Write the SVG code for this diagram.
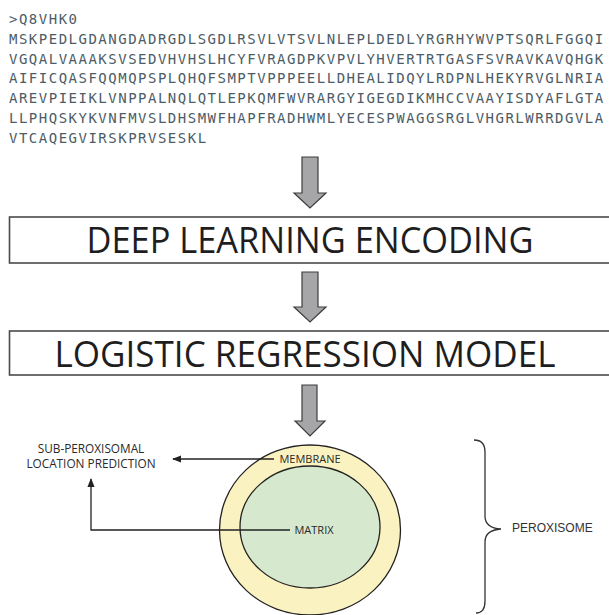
<svg xmlns="http://www.w3.org/2000/svg" width="609" height="615" viewBox="0 0 609 615">
  <style>
    .seq { font-family: "DejaVu Sans Mono", "Liberation Mono", monospace; font-size: 14px; letter-spacing: 1.5px; fill: #4d5c66; }
    .stage { fill: #ffffff; stroke: #4a4a4a; stroke-width: 1.6; }
    .stage-text { font-family: "Open Sans", "Noto Sans", sans-serif; font-size: 36px; fill: #1e1e1e; text-anchor: middle; }
    .flow { fill: #a6a6a8; stroke: #3c3c3c; stroke-width: 1.2; stroke-linejoin: miter; }
    .small { font-family: "Open Sans", "Noto Sans", sans-serif; font-size: 11px; fill: #2a2a2a; }
    .label { font-family: "Open Sans", "Noto Sans", sans-serif; font-size: 11.8px; fill: #2a2a2a; text-anchor: middle; }
    .link { fill: none; stroke: #222; stroke-width: 1.3; }
    .shell { fill: #fbf2c1; stroke: #222; stroke-width: 1.3; }
    .core { fill: #d6e8cd; stroke: #222; stroke-width: 1.3; }
    .brace { fill: none; stroke: #333; stroke-width: 1.3; }
    .side { font-family: "Liberation Sans", Arial, sans-serif; font-size: 12px; fill: #333; }
  </style>
  <defs>
    <marker id="tip" viewBox="0 0 10 10" refX="9" refY="5" markerWidth="9" markerHeight="9" markerUnits="userSpaceOnUse" orient="auto">
      <path d="M0,1 L10,5 L0,9 Z" fill="#222"/>
    </marker>
  </defs>

  <rect width="609" height="615" fill="#ffffff"/>

  <!-- protein sequence in FASTA form -->
  <g id="sequence">
    <text class="seq" x="9" y="24">&gt;Q8VHK0</text>
    <text class="seq" x="9" y="43.8">MSKPEDLGDANGDADRGDLSGDLRSVLVTSVLNLEPLDEDLYRGRHYWVPTSQRLFGGQI</text>
    <text class="seq" x="9" y="63.6">VGQALVAAAKSVSEDVHVHSLHCYFVRAGDPKVPVLYHVERTRTGASFSVRAVKAVQHGK</text>
    <text class="seq" x="9" y="83.4">AIFICQASFQQMQPSPLQHQFSMPTVPPPEELLDHEALIDQYLRDPNLHEKYRVGLNRIA</text>
    <text class="seq" x="9" y="103.2">AREVPIEIKLVNPPALNQLQTLEPKQMFWVRARGYIGEGDIKMHCCVAAYISDYAFLGTA</text>
    <text class="seq" x="9" y="123">LLPHQSKYKVNFMVSLDHSMWFHAPFRADHWMLYECESPWAGGSRGLVHGRLWRRDGVLA</text>
    <text class="seq" x="9" y="142.8">VTCAQEGVIRSKPRVSESKL</text>
  </g>

  <!-- encoding stage -->
  <g id="encoding">
    <rect class="stage" x="9.5" y="217" width="610" height="46"/>
    <text class="stage-text" x="310" y="253" textLength="447" lengthAdjust="spacingAndGlyphs">DEEP LEARNING ENCODING</text>
  </g>

  <!-- classifier stage -->
  <g id="regression">
    <rect class="stage" x="9.5" y="331" width="610" height="44"/>
    <text class="stage-text" x="305" y="367" textLength="501" lengthAdjust="spacingAndGlyphs">LOGISTIC REGRESSION MODEL</text>
  </g>

  <!-- peroxisome: membrane shell around the matrix -->
  <g id="peroxisome">
    <ellipse class="shell" cx="310" cy="530" rx="90.5" ry="85"/>
    <ellipse class="core" cx="310" cy="527" rx="70" ry="61"/>
    <text class="small" x="310" y="463" text-anchor="middle">MEMBRANE</text>
    <text class="small" x="314" y="534" text-anchor="middle">MATRIX</text>
  </g>

  <g id="prediction">
    <text class="label" x="91" y="452.5"><tspan x="91">SUB-PEROXISOMAL</tspan><tspan x="91" dy="15">LOCATION PREDICTION</tspan></text>
  </g>

  <g id="organelle-label">
    <path class="brace" d="M474,440 Q485,440 485,452 L485,516 Q485,528 501,529 Q485,530 485,542 L485,601 Q485,613 476,613"/>
    <text class="side" x="512" y="532">PEROXISOME</text>
  </g>

  <!-- connectors -->
  <g id="connectors">
    <path class="flow" d="M302,157 L318,157 L318,193 L326,193 L310,208 L294,193 L302,193 Z"/>
    <path class="flow" d="M302,272 L318,272 L318,307 L326,307 L310,322 L294,307 L302,307 Z"/>
    <path class="flow" d="M302,385 L317,385 L317,421 L325,421 L310,436 L295,421 L302,421 Z"/>
    <path class="link" d="M274,459 L173,459" marker-end="url(#tip)"/>
    <path class="link" d="M290,530 L91,530 L91,479" marker-end="url(#tip)"/>
  </g>
</svg>
